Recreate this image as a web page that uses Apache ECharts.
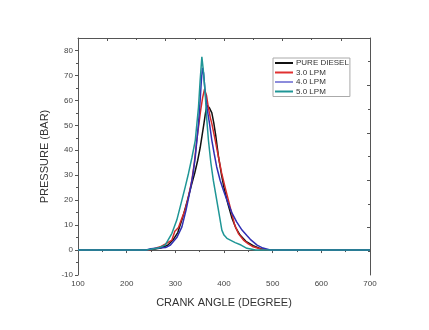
<!DOCTYPE html>
<html>
<head>
<meta charset="utf-8">
<script src="https://cdn.jsdelivr.net/npm/echarts@6/dist/echarts.min.js"></script>
<style>html,body{margin:0;padding:0;background:#fff}#c{width:429px;height:330px}</style>
</head>
<body>
<div id="c"></div>
<script>
// Crank angle (degree) / pressure (bar)
const dieselAngle = [100,240,255,270,285,295,305,315,325,333,340,346,351,355,359,362,365,370,375,379,383,389,395,400,408,416,424,433,445,460,475,490,700];
const dieselP     = [0,0,0.3,0.8,2,4,7,13,20,26,31,36,41,46,51,55,58,57,55,51,46,37,30,25,18.5,13,9,6,3.5,1.8,0.5,0,0];

const lpm3Angle = [100,245,259,269,280,293,299,303,306.5,313,320,327,334,339,344,348,352,356,360,364,368,372,375,382,388.6,395,402,409,416,422,430,440,450,460,475,490,700];
const lpm3P     = [0,0,0.7,1.3,2.5,4,7.5,8,9,12.5,16,21.5,28,35,44,50,56,61,64.5,62,57,53,50.7,44,37.3,31,25.3,20,14.7,10,6.5,4,2.5,1.3,0.4,0,0];

const lpm4Angle = [100,240,250,265,280,290,303,313.5,322,330.5,336,341,347.6,351,353.5,355.8,358,361,364.8,370,375,380,385,392,398.8,407,416,426,437,447,454,468,480,495,700];
const lpm4P     = [0,0,0.5,0.8,1,2,5,9.3,16,24,30,37.3,50.7,60,68,73,71,64,57.3,51,44,38.5,33.3,28,24,19.5,15,11.3,8,5.8,4.3,2,0.8,0,0];

const lpm5Angle = [100,240,250,265,279,293,303,313.5,320,327,334,341,347.6,351,354.5,357,361,364,368,373,378,388.6,395.6,400,406,423,435,447,465,700];
const lpm5P     = [0,0,0.3,0.8,2,6.7,12,20,25,30.7,37,44,57.3,68,77.5,73,64,54,44,35,28,16,8,6,4.7,3,2,0.7,0,0];

const seriesNames = ['PURE DIESEL','3.0 LPM','4.0 LPM','5.0 LPM'];
const seriesColors = ['#111111','#d42a2a','#2f2fb4','#1f9696'];
const legendColors = ['#111111','#e03030','#8c8cdc','#1f9696'];

const xTicks = [100,200,300,400,500,600,700];
const yTicks = [-10,0,10,20,30,40,50,60,70,80];

function pairs(a, b){ return a.map((v,i)=>[v,b[i]]); }
const allData = [pairs(dieselAngle,dieselP),pairs(lpm3Angle,lpm3P),pairs(lpm4Angle,lpm4P),pairs(lpm5Angle,lpm5P)];

const axisColor = '#555';
const font = 'Liberation Sans, Arial, sans-serif';

const chart = echarts.init(document.getElementById('c'));
chart.setOption({
  animation:false,
  backgroundColor:'#fff',
  grid:{left:78,right:59,top:38,bottom:55,containLabel:false},
  legend:{
    orient:'vertical', left:273, top:58,
    data: seriesNames.map((n,i)=>({name:n, itemStyle:{color:legendColors[i]}, lineStyle:{color:legendColors[i], width:2}})),
    icon:'rect', itemWidth:18, itemHeight:2, itemGap:1.5,
    borderColor:'#aaa', borderWidth:1, padding:[1,1,1,2],
    textStyle:{fontFamily:font,fontSize:8,color:'#333',lineHeight:8,padding:[0,0,0,-2]}
  },
  xAxis:[
    {type:'value',position:'bottom',min:100,max:700,interval:100,
     name:'CRANK ANGLE (DEGREE)',nameLocation:'middle',nameGap:22,
     nameTextStyle:{fontFamily:font,fontSize:11,color:'#333'},
     axisLine:{show:true,lineStyle:{color:axisColor,width:1}},
     axisTick:{show:true,inside:false,length:3,lineStyle:{color:axisColor}},
     minorTick:{show:true,splitNumber:2,length:2,lineStyle:{color:axisColor}},
     axisLabel:{fontFamily:font,fontSize:8,color:'#444',margin:5,customValues:xTicks},
     splitLine:{show:false}},
    {type:'value',position:'top',min:100,max:700,
     axisLine:{show:true,onZero:false,lineStyle:{color:axisColor,width:1}},
     axisTick:{show:true,inside:true,length:3,customValues:[160,280,400,520,640],lineStyle:{color:axisColor}},
     axisLabel:{show:false},splitLine:{show:false}},
    {type:'value',position:'top',min:100,max:700,
     axisLine:{show:false,onZero:false},
     axisTick:{show:true,inside:true,length:2,customValues:[220,340,460,580],lineStyle:{color:axisColor}},
     axisLabel:{show:false},splitLine:{show:false}}
  ],
  yAxis:[
    {type:'value',position:'left',min:-10,max:85,interval:10,
     name:'PRESSURE (BAR)',nameLocation:'middle',nameGap:27,nameRotate:90,
     nameTextStyle:{fontFamily:font,fontSize:11,color:'#333'},
     axisLine:{show:true,onZero:false,lineStyle:{color:axisColor,width:1}},
     axisTick:{show:true,inside:false,length:3,customValues:yTicks,lineStyle:{color:axisColor}},
     minorTick:{show:true,splitNumber:2,length:2,lineStyle:{color:axisColor}},
     axisLabel:{fontFamily:font,fontSize:8,color:'#444',margin:5,customValues:yTicks},
     splitLine:{show:false}},
    {type:'value',position:'right',min:-10,max:85,
     axisLine:{show:true,onZero:false,lineStyle:{color:axisColor,width:1}},
     axisTick:{show:true,inside:true,length:3,customValues:[9,28,47,66],lineStyle:{color:axisColor}},
     axisLabel:{show:false},splitLine:{show:false}},
    {type:'value',position:'right',min:-10,max:85,
     axisLine:{show:false,onZero:false},
     axisTick:{show:true,inside:true,length:2,customValues:[-0.5,18.5,37.5,56.5,75.5],lineStyle:{color:axisColor}},
     axisLabel:{show:false},splitLine:{show:false}}
  ],
  series: seriesNames.map((n,i)=>({
    name:n,type:'line',xAxisIndex:0,yAxisIndex:0,data:allData[i],
    showSymbol:false,symbol:'none',smooth:false,
    lineStyle:{color:seriesColors[i],width:1.5},itemStyle:{color:seriesColors[i]}
  }))
});
</script>
</body>
</html>
